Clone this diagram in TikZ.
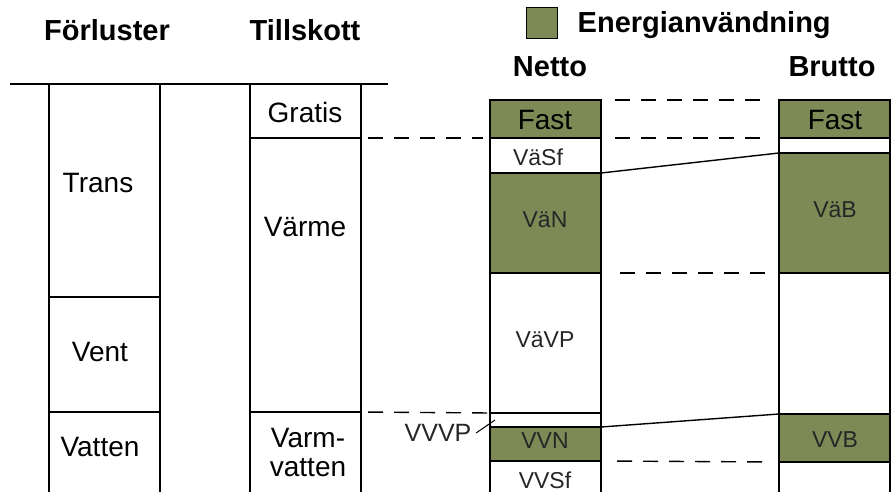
\documentclass[tikz,border=0pt]{standalone}
\usepackage{fontspec}
\setmainfont{Liberation Sans}
\usetikzlibrary{positioning}
\definecolor{energi}{RGB}{126,138,86}

\begin{document}
\begin{tikzpicture}[x=1pt,y=-1pt,line width=1.4pt,
  seg/.style={draw,minimum width=111pt,inner sep=0pt,outer sep=0pt,anchor=north west},
  lbl/.style={font=\fontsize{28}{29}\selectfont,align=center,inner sep=0pt},
  sml/.style={font=\fontsize{23}{25}\selectfont,inner sep=0pt,text=black!85},
  head/.style={font=\fontsize{29}{31}\selectfont\bfseries,inner sep=0pt},
  lnk/.style={dash pattern=on 15pt off 11pt}]
\useasboundingbox (0,0) rectangle (896,492);
% column segments: name/x/top/height/fill
\foreach \n/\x/\y/\h/\f in {trans/49/84/213/white,vent/49/297/115/white,
    vatten/49/412/92/white,gratis/250/84/54/white,varme/250/138/274/white,
    varmv/250/412/92/white,
    nfast/490/100/38/energi,vasf/490/138/35/white,van/490/173/100/energi,
    vavp/490/273/140/white,vvvp/490/413/14/white,vvn/490/427/34/energi,
    vvsf/490/461/43/white,
    bfast/779/100/38/energi,bsf/779/138/15/white,vab/779/153/120/energi,
    bvp/779/273/141/white,vvb/779/414/48/energi,bvvsf/779/462/42/white}{
  \node[seg,fill=\f,minimum height=\h pt] (\n) at (\x,\y) {};
}
\draw (10,84) -- (388,84);
% texts
\foreach \n/\x/\y/\t in {ttrans/98/183/Trans,tvent/100/352/Vent,
    tvatten/100/447/Vatten,tgratis/305/112/Gratis,tvarme/305/227/Värme,
    tvarmv/308/452/{Varm-\\vatten},tnfast/545/120/Fast,tbfast/835/120/Fast}{
  \node[lbl] (\n) at (\x,\y) {\t};
}
\foreach \n/\x/\y/\t in {tvasf/538/157/VäSf,tvan/545/220/VäN,tvavp/545/340/VäVP,
    tvvn/545/441/VVN,tvvsf/545/480/VVSf,tvab/835/210/VäB,tvvb/835/440/VVB}{
  \node[sml] (\n) at (\x,\y) {\t};
}
\node[sml,font=\fontsize{25}{27}\selectfont] (tvvvp) at (438,433) {VVVP};
\draw[line width=1pt] ([xshift=4pt]tvvvp.east) -- ([xshift=5pt]vvvp.west);
% headings and legend
\node[head] (hforl) at (107,30) {Förluster};
\node[head] (htill) at (305,30) {Tillskott};
\node[head] (hnetto) at (550,67) {Netto};
\node[head] (hbrutto) at (832,67) {Brutto};
\node[draw,fill=energi,line width=1pt,minimum size=31pt,inner sep=0pt] (legbox) at (542,23) {};
\node[head,anchor=west] (legtxt) at (577,25) {Energianvändning};
% links between the bars
\draw[lnk,shorten <=7pt,shorten >=7pt] (gratis.south east) -- (vasf.north west);
\draw[lnk,shorten <=7pt] (varme.south east) -- (vavp.south west);
\draw[lnk,shorten <=14pt,shorten >=19pt] (nfast.north east) -- (bfast.north west);
\draw[lnk,shorten <=14pt,shorten >=19pt] (nfast.south east) -- (bfast.south west);
\draw[lnk,shorten <=19pt,shorten >=14pt] (van.south east) -- (vab.south west);
\draw[lnk,shorten <=16pt,shorten >=17pt] (vvn.south east) -- (vvb.south west);
\draw (van.north east) -- (vab.north west);
\draw (vvn.north east) -- (vvb.north west);
\end{tikzpicture}
\end{document}
